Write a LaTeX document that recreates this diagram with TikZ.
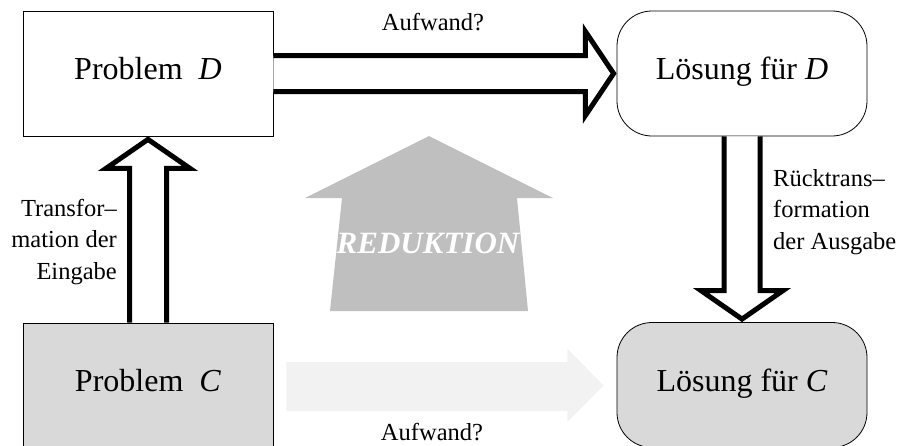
\documentclass[tikz,border=0pt]{standalone}
\usepackage{fontspec}
\setmainfont{Liberation Serif}
\usetikzlibrary{calc}
\definecolor{boxgray}{HTML}{D9D9D9}
\definecolor{redgray}{HTML}{BFBFBF}
\definecolor{fadegray}{HTML}{F2F2F2}
\tikzset{
  mainbox/.style={draw=black, line width=0.8pt, minimum width=250pt, minimum height=125pt,
    inner sep=0pt, text height=17pt, text depth=5pt, font=\fontsize{32}{38}\selectfont},
  solbox/.style={mainbox, rounded corners=35pt},
  hollow/.style={draw=black, fill=white, line width=5pt, miter limit=10},
  lbl/.style={font=\fontsize{24.5}{31.5}\selectfont, inner sep=0pt},
}
\begin{document}
\begin{tikzpicture}[x=1pt, y=-1pt]
\useasboundingbox (0,0) rectangle (900,445);
\clip (0,0) rectangle (900,445);
% boxes
\node[mainbox] (pD) at (148,73.5) {Problem\hspace{0.5em}\textit{D}};
\node[solbox] (lD) at (742,73.5) {Lösung für \textit{D}};
\node[mainbox, fill=boxgray] (pC) at (148,385.5) {Problem\hspace{0.5em}\textit{C}};
\node[solbox, fill=boxgray] (lC) at (742,385) {Lösung für \textit{C}};
% REDUKTION arrow
\fill[redgray] (330,311) -- (342,198) -- (305,198) -- (429,136) -- (553,198) -- (517,198) -- (528,311) -- cycle;
\node[font=\fontsize{31}{36}\selectfont\bfseries\itshape, text=white, inner sep=0pt] (red) at (428,243) {REDUKTION};
% faded arrow C -> solution C
\fill[fadegray] ($(pC.east)+(13,-23.5)$) -- ++(281,0) -- ++(0,-13) -- ($(lC.west)+(-13,0.5)$)
  -- ($(pC.east)+(294,36.5)$) -- ++(0,-11) -- ($(pC.east)+(13,25.5)$) -- cycle;
% hollow arrow D -> solution D
\path[hollow] ($(pD.east)+(0,-18)$) -- ($(pD.east)+(312,-18)$) -- ($(pD.east)+(312,-42)$)
  -- ($(lD.west)+(-3,0)$) -- ($(pD.east)+(312,42)$) -- ($(pD.east)+(312,18)$) -- ($(pD.east)+(0,18)$);
% hollow arrow C -> D (up)
\path[hollow] ($(pC.north)+(-18.5,0)$) -- ($(pD.south)+(-18.5,32)$) -- ($(pD.south)+(-42,32)$)
  -- ($(pD.south)+(0,3)$) -- ($(pD.south)+(42,32)$) -- ($(pD.south)+(18.5,32)$) -- ($(pC.north)+(18.5,0)$);
% hollow arrow solution D -> solution C (down)
\path[hollow] ($(lD.south)+(-18,0)$) -- ($(lC.north)+(-18,-31.5)$) -- ($(lC.north)+(-41,-31.5)$)
  -- ($(lC.north)+(0,-3)$) -- ($(lC.north)+(41,-31.5)$) -- ($(lC.north)+(18,-31.5)$) -- ($(lD.south)+(18,0)$);
% labels
\node[lbl] (a1) at (433,22) {Aufwand?};
\node[lbl] (a2) at (432,432) {Aufwand?};
\node[lbl, align=right, anchor=east] (t1) at (117,242) {Transfor–\\mation der\\Eingabe};
\node[lbl, align=left, anchor=west] (t2) at (773,212) {Rücktrans–\\formation\\der Ausgabe};
\end{tikzpicture}
\end{document}
